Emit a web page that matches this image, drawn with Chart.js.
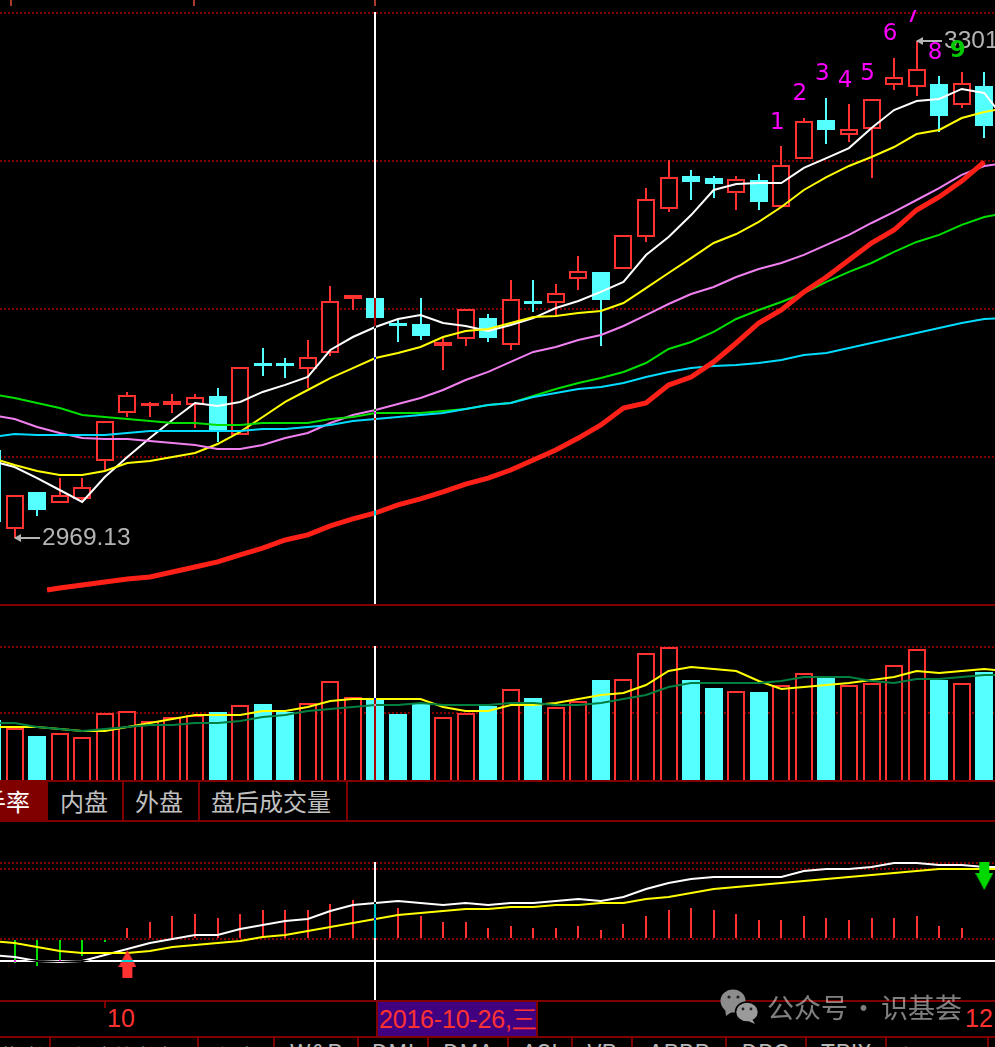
<!DOCTYPE html>
<html>
<head>
<meta charset="utf-8">
<title>K线</title>
<script src="https://cdn.jsdelivr.net/npm/chart.js@4"></script>
<style>
  html, body { margin: 0; background: #000; overflow: hidden; }
  #page { position: relative; width: 995px; height: 1047px; overflow: hidden; background: #000; font-family: "Noto Sans CJK SC", sans-serif; }
  canvas { position: absolute; left: 0; }
  .rule { position: absolute; background: #800000; }
  .tab { position: absolute; top: 782px; height: 38px; line-height: 38px; color: #c0c0c0; font-size: 24px; text-align: center; white-space: nowrap; }
  .tick { position: absolute; top: 0; width: 2px; height: 6px; background: #a83a30; }
  .axis { position: absolute; color: #ff3232; font-family: "Liberation Sans", sans-serif; font-size: 25px; line-height: 30px; white-space: nowrap; }
  .low { position: absolute; height: 50px; line-height: 50px; color: #b8b8b8; font-size: 24px; text-align: center; white-space: nowrap; }
  .mark { position: absolute; color: rgba(255,255,255,0.5); font-size: 27px; line-height: 34px; top: 990px; white-space: nowrap; }
</style>
</head>
<body>
<div id="page">
  <canvas id="kline" style="top:0" width="995" height="605"></canvas>
  <canvas id="volume" style="top:606px" width="995" height="174"></canvas>
  <canvas id="macd" style="top:822px" width="995" height="178"></canvas>
  <div id="chrome"></div>
</div>
<script>
// candles, index 0 is the one cut off at the left edge
const open = [3027.0,2974.1,2998.9,2991.5,2994.2,3019.6,3051.8,3056.5,3057.2,3057.2,3063.2,3037.0,3084.0,3084.0,3081.3,3092.0,3128.2,3128.8,3110.8,3111.4,3096.7,3101.4,3115.4,3097.4,3125.5,3125.5,3141.6,3146.3,3148.3,3169.7,3188.5,3210.6,3209.3,3199.2,3207.9,3189.8,3222.0,3248.1,3238.0,3242.1,3271.6,3270.2,3272.2,3258.2,3270.9]
const close = [2978.8,2996.9,2986.8,2996.9,3002.2,3046.4,3063.9,3057.2,3059.8,3062.5,3039.7,3082.6,3083.3,3083.3,3089.3,3126.8,3130.9,3115.4,3110.1,3103.4,3099.4,3121.5,3102.0,3128.2,3124.8,3132.2,3146.9,3127.5,3171.1,3195.2,3209.9,3206.6,3205.2,3208.6,3193.2,3217.9,3247.4,3241.4,3242.1,3262.2,3276.9,3282.3,3250.8,3272.9,3244.1]
const high = [3030.3,2996.9,2998.9,3008.2,3008.2,3046.4,3065.9,3059.2,3064.5,3064.5,3068.5,3082.6,3095.3,3088.6,3100.7,3136.9,3130.9,3128.8,3114.1,3128.8,3102.0,3121.5,3118.1,3140.9,3140.9,3138.2,3157.0,3146.3,3171.1,3202.5,3221.3,3214.6,3210.6,3210.6,3211.9,3230.7,3249.4,3262.8,3258.8,3262.2,3289.6,3301.0,3277.6,3280.3,3280.3]
const low = [2976.8,2968.0,2982.8,2991.5,2993.5,3013.6,3049.1,3049.1,3051.8,3041.7,3032.4,3037.0,3076.6,3075.2,3068.5,3090.0,3120.8,3110.1,3099.4,3100.7,3080.6,3096.7,3099.4,3094.0,3119.5,3116.1,3134.2,3096.7,3148.3,3166.4,3186.5,3194.5,3195.8,3187.8,3187.8,3189.8,3222.0,3232.0,3233.4,3209.2,3268.2,3264.2,3240.1,3256.1,3236.0]

// moving averages, one value per candle plus one past the right edge
const ma5 = [3019.6,3015.6,3008.2,3000.2,2992.2,3008.9,3022.3,3035.0,3047.1,3058.5,3056.5,3059.2,3065.9,3070.6,3075.9,3094.0,3102.7,3109.4,3114.8,3117.4,3112.1,3110.1,3106.7,3110.8,3115.4,3122.1,3126.8,3132.9,3139.6,3157.6,3169.7,3184.4,3201.2,3205.2,3205.9,3205.9,3216.0,3222.6,3229.3,3242.7,3254.8,3260.8,3262.2,3268.9,3266.2,3246.8]
const ma10 = [3021.6,3017.0,3012.9,3010.2,3010.2,3012.9,3018.3,3019.6,3022.3,3025.0,3031.0,3039.1,3049.1,3059.2,3067.2,3075.2,3081.9,3088.6,3092.0,3096.0,3102.7,3106.7,3108.1,3112.1,3116.1,3116.8,3118.8,3120.1,3125.5,3135.5,3145.6,3155.6,3165.7,3171.7,3179.8,3189.8,3201.2,3209.9,3217.3,3223.3,3230.0,3238.7,3241.4,3249.4,3253.5,3256.1]
const ma20 = [3050.4,3047.8,3042.4,3038.4,3035.0,3034.4,3034.4,3033.0,3031.7,3030.4,3027.7,3027.7,3030.4,3035.0,3038.4,3045.1,3050.4,3053.8,3057.8,3061.8,3067.2,3073.9,3079.3,3086.0,3092.7,3096.0,3100.7,3104.1,3110.1,3117.4,3124.8,3131.5,3136.2,3142.9,3148.3,3152.3,3157.7,3164.4,3171.1,3179.1,3186.5,3194.5,3202.5,3211.3,3217.3,3219.3]
const ma30 = [3064.5,3061.8,3058.5,3055.1,3050.4,3049.1,3047.8,3046.4,3045.1,3045.1,3043.8,3043.8,3045.1,3045.1,3045.1,3047.8,3049.1,3051.8,3051.8,3051.8,3053.1,3054.5,3057.2,3058.5,3063.2,3067.9,3071.9,3075.2,3079.3,3085.3,3094.7,3099.4,3106.1,3114.8,3120.8,3126.2,3132.2,3139.6,3146.3,3152.3,3159.7,3166.4,3171.1,3177.8,3183.1,3185.8]
const ma60 = [3035.7,3037.7,3037.0,3037.0,3037.0,3037.0,3038.4,3039.7,3039.7,3039.7,3039.7,3039.7,3041.1,3041.1,3042.4,3043.8,3046.4,3047.8,3049.1,3050.4,3051.8,3054.5,3057.2,3058.5,3062.5,3065.2,3067.9,3069.2,3071.9,3075.9,3079.3,3081.9,3083.3,3084.0,3085.3,3087.3,3090.6,3092.0,3095.3,3098.7,3102.0,3105.4,3108.7,3112.1,3114.8,3115.4]
// thick line starts between candles 2 and 3 and stops at the last candle
const ma120Index = [2.44,3,4,5,6,7,8,9,10,11,12,13,14,15,16,17,18,19,20,21,22,23,24,25,26,27,28,29,30,31,32,33,34,35,36,37,38,39,40,41,42,43,44]
const ma120 = [2933.2,2934.5,2936.6,2938.6,2940.6,2941.9,2945.3,2948.6,2952.0,2956.7,2961.3,2966.7,2970.1,2976.1,2980.8,2984.8,2990.2,2994.2,2998.9,3004.2,3008.2,3013.6,3020.3,3027.0,3035.0,3043.8,3055.1,3058.5,3070.5,3075.9,3086.0,3098.7,3112.1,3120.8,3132.9,3142.9,3154.3,3165.7,3174.4,3187.8,3196.5,3207.2,3220.0]

// volume panel
const vol = [60,52,44,47,43,67,69,59,63,65,68,75,76,68,77,99,83,81,66,76,63,67,74,91,82,73,79,100,101,127,133,100,92,89,88,95,107,102,95,97,115,131,100,97,108]
const volMa5 = [53,53,53,51,49,49,53,57,61,65,65,65,69,69,73,79,81,81,81,81,73,69,69,75,75,77,81,85,87,95,109,113,111,109,99,91,93,95,97,100,103,109,107,109,111,109]
const volMa10 = [57,57,53,51,49,51,53,55,55,57,57,59,63,65,69,71,73,75,75,77,75,75,75,77,77,75,75,77,81,85,93,97,97,97,97,99,103,103,103,99,97,101,101,103,105,105]

// lower indicator panel
const macdBar = [0,-12,-13.5,-11,-8.5,-1.5,5.5,8.5,11.5,12.5,10.5,12.5,14.5,14.5,14.5,17.5,19.5,17.5,15.5,11.5,8.5,8.5,5.5,6.5,5.5,5.5,6.5,4.5,7.5,11.5,14.5,15.5,14.5,12.5,9.5,9.5,11.5,10.5,9.5,10.5,10.5,11.5,6.5,5.5,-0.5]
const dif = [-8,-9,-11,-11.5,-11,-8,-5,-2,0,2,2,5,7,9,10,14,17,18,19,18,17,18,17,18,18,19,20,19,21,25,28,30,31,31,31,31,34,35,35,36,38,38,37,37,36,36]
const dea = [-1,-2,-4,-6,-7,-7,-7,-6,-4,-3,-2,-1,1,2,4,6,8,10,12,13,14,15,15,16,16,17,17,18,18,20,21,23,25,26,27,28,29,30,31,32,33,34,35,35,35,35]

// gridlines per panel
const klineGrid = [3319.8,3220.6,3121.5,3022.3]
const volGrid = [133,67]
const macdGrid = [38,35,0]

// sequence count above the candles, candle index, text and price of the baseline
const countIndex = [35,36,37,38,39,40,41,42,43]
const countText = ['1','2','3','4','5','6','7','8','9']
const countPrice = [3242.4,3261.2,3274.6,3270.5,3274.6,3301.4,3313.8,3289.3,3290.0]

const lowLabel = '2969.13'
const highLabel = '3301'
const cursorIndex = 17
const cursorMacd = -11
const buyIndex = 6, buyValue = -12.5
const sellIndex = 44, sellValue = 31.5

const topTabs = [['手率',-26,64],['内盘',48,72],['外盘',122,74],['盘后成交量',198,146]]
const topRules = [122,198,346]
const lowTabs = [['指数',0,49],['涨跌停数据',51,146],['主力',199,74],['W&R',275,82],['DMI',359,68],['DMA',429,78],['ASI',509,62],['VR',573,58],['ARBR',633,92],['DPO',727,78],['TRIX',807,78],['新DMA',887,100]]
const lowRules = [49,197,273,357,427,507,571,631,725,805,885,987]

const RED = '#ff3232', CYAN = '#54ffff'
const isUp = open.map((o, i) => close[i] >= o)
const pts = (arr) => arr.map((v, i) => ({ x: i, y: v }))

const line = (data, color, width, order) => ({
  type: 'line', data, borderColor: color, borderWidth: width, pointRadius: 0, tension: 0, order
})

// candle spacing: index 0 sits at x = -7.95, 22.55px per candle
const xScale = { type: 'linear', min: 0.3525, max: 44.476, display: false, offset: false }
const yScale = (min, max, grid) => ({
  min, max,
  afterBuildTicks: (scale) => { scale.ticks = grid.map((v) => ({ value: v })) },
  ticks: { display: false },
  border: { display: false, dash: [2, 2] },
  grid: { color: '#800000', lineWidth: 2, drawTicks: false }
})

// black backing so the crosshair can invert what is beneath it, bars on whole pixels
const backing = {
  id: 'backing',
  beforeDraw(chart) {
    const c = chart.ctx
    c.save()
    c.fillStyle = '#000'
    c.fillRect(0, 0, chart.width, chart.height)
    c.restore()
  },
  afterDatasetsUpdate(chart) {
    chart.data.datasets.forEach((ds, i) => {
      if (ds.type !== 'bar') return
      chart.getDatasetMeta(i).data.forEach((el) => {
        el.x = Math.round(el.x)
        el.y = Math.round(el.y)
        el.base = Math.round(el.base)
      })
    })
  }
}

const crosshair = (topValue, hValue) => ({
  id: 'crosshair',
  afterDraw(chart) {
    const c = chart.ctx
    const x = Math.round(chart.scales.x.getPixelForValue(cursorIndex))
    const top = Math.round(chart.scales.y.getPixelForValue(topValue))
    c.save()
    c.globalCompositeOperation = 'difference'
    c.fillStyle = '#fff'
    c.fillRect(x - 1, top - 1, 2, chart.height - top + 1)
    if (hValue !== null) {
      const y = Math.round(chart.scales.y.getPixelForValue(hValue))
      c.fillRect(0, y - 1, x - 1, 2)
      c.fillRect(x + 1, y - 1, chart.width - x - 1, 2)
    }
    c.restore()
  }
})

const labels = {
  id: 'labels',
  afterDraw(chart) {
    const c = chart.ctx, sx = chart.scales.x, sy = chart.scales.y
    c.save()
    const extreme = (index, price, text) => {
      const x = Math.round(sx.getPixelForValue(index)), y = Math.round(sy.getPixelForValue(price))
      c.strokeStyle = c.fillStyle = '#b4b4b4'
      c.lineWidth = 2
      c.beginPath(); c.moveTo(x, y); c.lineTo(x + 25, y); c.stroke()
      c.beginPath(); c.moveTo(x - 1, y); c.lineTo(x + 6, y - 4); c.lineTo(x + 6, y + 4); c.fill()
      c.font = '24.5px "Liberation Sans"'
      c.textBaseline = 'middle'
      c.textAlign = 'left'
      c.fillText(text, x + 27, y)
    }
    extreme(1, low[1], lowLabel)
    extreme(41, high[41], highLabel)
    c.textBaseline = 'alphabetic'
    c.textAlign = 'center'
    countIndex.forEach((idx, i) => {
      const x = sx.getPixelForValue(idx) - 4, y = sy.getPixelForValue(countPrice[i])
      c.save()
      // the 7 runs into the gridline above and loses its top
      c.beginPath(); c.rect(0, 10, chart.width, chart.height); c.clip()
      c.fillStyle = countText[i] === '9' ? '#00c800' : '#ff00ff'
      c.font = (countText[i] === '9' ? 'bold ' : '') + '23px "DejaVu Sans"'
      c.fillText(countText[i], x, y)
      c.restore()
    })
    c.restore()
  }
}

const arrowIcon = (color, up) => {
  const cv = document.createElement('canvas')
  cv.width = 18; cv.height = 28
  const c = cv.getContext('2d')
  c.fillStyle = color
  c.beginPath()
  const shape = [[9,0],[18,17],[14,17],[14,28],[4,28],[4,17],[0,17]]
  shape.forEach(([x, y], i) => {
    const py = up ? y : 28 - y
    i ? c.lineTo(x, py) : c.moveTo(x, py)
  })
  c.closePath()
  c.fill()
  return cv
}

const baseOptions = (ys) => ({
  responsive: false,
  animation: false,
  events: [],
  layout: { padding: 0, autoPadding: false },
  plugins: { legend: { display: false }, tooltip: { enabled: false } },
  scales: { x: xScale, y: ys }
})

const candleColor = isUp.map((up) => up ? RED : CYAN)
const candleFill = isUp.map((up) => up ? '#000' : CYAN)

new Chart(document.getElementById('kline'), {
  data: {
    datasets: [
      { type: 'bar', data: low.map((v, i) => ({ x: i, y: [v, high[i]] })), backgroundColor: candleColor, barThickness: 2, grouped: false, inflateAmount: 0, order: 20 },
      { type: 'bar', data: open.map((v, i) => ({ x: i, y: [v, close[i]] })), backgroundColor: candleFill, borderColor: candleColor, borderWidth: 2, borderSkipped: false, barThickness: 18, minBarLength: 3, grouped: false, inflateAmount: 0, order: 19 },
      line(pts(ma5), '#ffffff', 2, 6),
      line(pts(ma10), '#ffff00', 2, 5),
      line(pts(ma20), '#f080f0', 2, 4),
      line(pts(ma30), '#00e000', 2, 3),
      line(pts(ma60), '#00dcff', 2, 2),
      line(ma120.map((v, i) => ({ x: ma120Index[i], y: v })), '#ff2018', 5, 1)
    ]
  },
  options: baseOptions(yScale(2923.15, 3328.5, klineGrid)),
  plugins: [backing, labels, crosshair(klineGrid[0], null)]
})

new Chart(document.getElementById('volume'), {
  data: {
    datasets: [
      { type: 'bar', data: pts(vol), backgroundColor: candleFill, borderColor: candleColor, borderWidth: 2, borderSkipped: 'bottom', barThickness: 18, grouped: false, inflateAmount: 0, order: 10 },
      line(pts(volMa5), '#ffff00', 2, 2),
      line(pts(volMa10), '#008040', 2, 1)
    ]
  },
  options: baseOptions(yScale(0, 174, volGrid)),
  plugins: [backing, crosshair(volGrid[0], null)]
})

new Chart(document.getElementById('macd'), {
  data: {
    datasets: [
      { type: 'bar', data: pts(macdBar), backgroundColor: macdBar.map((v) => v >= 0 ? RED : '#00e000'), barThickness: 2, grouped: false, inflateAmount: 0, order: 10 },
      line(pts(dif), '#ffffff', 2, 3),
      line(pts(dea), '#ffff00', 2, 2),
      { type: 'line', data: [{ x: buyIndex, y: buyValue }], showLine: false, pointStyle: arrowIcon(RED, true), pointRadius: 10, order: 1 },
      { type: 'line', data: [{ x: sellIndex, y: sellValue }], showLine: false, pointStyle: arrowIcon('#00d800', false), pointRadius: 10, order: 1 }
    ]
  },
  options: baseOptions(yScale(-30.5, 58.5, macdGrid)),
  plugins: [backing, crosshair(macdGrid[0], cursorMacd)]
})

// panel rules, tabs and axis text around the charts
const box = (cls, style, text) => {
  const d = document.createElement('div')
  d.className = cls
  d.style.cssText = style
  if (text) d.textContent = text
  document.getElementById('chrome').appendChild(d)
  return d
}
box('rule', 'left:0;top:604px;width:995px;height:2px')
box('rule', 'left:0;top:780px;width:995px;height:2px')
box('rule', 'left:0;top:820px;width:995px;height:2px')
box('rule', 'left:0;top:1000px;width:995px;height:2px')
box('rule', 'left:0;top:1036px;width:995px;height:2px')
box('rule', 'left:0;top:782px;width:48px;height:38px')
topRules.forEach((x) => box('rule', `left:${x}px;top:782px;width:2px;height:38px`))
topTabs.forEach(([t, x, w], i) => box('tab', `left:${x}px;width:${w}px;${i ? '' : 'color:#fff;'}`, t))
lowRules.forEach((x) => box('rule', `left:${x}px;top:1038px;width:2px;height:9px`))
// latin capitals start lower in the font than the CJK glyphs, so they sit higher to show the same sliver
lowTabs.forEach(([t, x, w]) => box('low', `left:${x}px;width:${w}px;top:${/^[\x00-\x7f]+$/.test(t) ? 1027 : 1032}px`, t))
;[11, 194, 375].forEach((x) => box('tick', `left:${x - 1}px`))

box('rule', 'left:104px;top:1002px;width:2px;height:6px')
box('axis', 'left:107px;top:1003px', '10')
box('axis', 'left:965px;top:1003px', '12')
box('rule', 'left:376px;top:1002px;width:162px;height:34px;background:#400080;border-left:2px solid #800000;border-right:2px solid #800000;box-sizing:border-box')
box('axis', 'left:379px;top:1004px;letter-spacing:-0.2px', '2016-10-26,三')

box('mark', 'left:767px;', '公众号')
box('mark', 'left:850px;', '·')
box('mark', 'left:881px;', '识基荟')
const icon = box('', 'position:absolute;left:720px;top:988px;width:44px;height:36px')
icon.innerHTML = '<svg width="44" height="36" viewBox="0 0 44 36">' +
  '<ellipse cx="13" cy="13" rx="12.5" ry="11.5" fill="#8c8c8c"/><path d="M5 20 L6 28 L13 23 Z" fill="#8c8c8c"/>' +
  '<circle cx="9" cy="9" r="1.6" fill="#222"/><circle cx="18" cy="9" r="1.6" fill="#222"/>' +
  '<ellipse cx="27" cy="24" rx="11.5" ry="10" fill="#9a9a9a" stroke="#000" stroke-width="1.5"/><path d="M32 31 L35 36 L28 33 Z" fill="#9a9a9a"/>' +
  '<circle cx="23" cy="21" r="1.4" fill="#222"/><circle cx="31" cy="21" r="1.4" fill="#222"/></svg>'
</script>
</body>
</html>
